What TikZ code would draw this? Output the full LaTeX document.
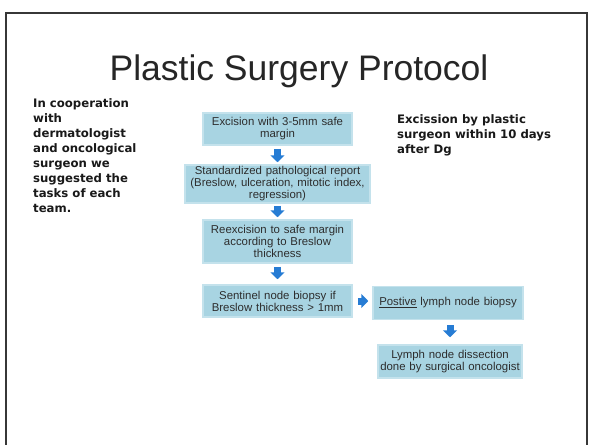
\documentclass[tikz,border=0pt]{standalone}
\usepackage{fontspec}
\setmainfont{Liberation Sans}
\newfontfamily\notefont{DejaVu Sans}
\usetikzlibrary{arrows.meta}
\definecolor{boxfill}{RGB}{168,212,226}
\definecolor{boxedge}{RGB}{196,226,236}
\definecolor{arrowblue}{RGB}{38,124,212}
\definecolor{frameclr}{RGB}{55,55,55}
\definecolor{boxtext}{RGB}{45,45,45}
\tikzset{
  stepbox/.style={fill=boxfill, draw=boxedge, line width=1.5pt, inner sep=0pt,
    align=center, text=boxtext, font=\fontsize{11.4}{12}\selectfont},
  blockarrow/.style={draw=arrowblue, line width=7pt,
    -{Triangle[width=14pt,length=7pt]}},
  notetext/.style={inner sep=0pt, align=left, anchor=north west, text=black!90,
    font=\notefont\bfseries\fontsize{11.7}{15}\selectfont},
  frameline/.style={draw=frameclr, line width=2pt}
}
\begin{document}
\begin{tikzpicture}[x=1pt,y=-1pt]
\clip (0,0) rectangle (591,444);
\fill[white] (0,0) rectangle (591,444);
\draw[frameline] (6,460) -- (6,13) -- (587,13) -- (587,460);

\node[inner sep=0pt, anchor=base, font=\fontsize{35.5}{40}\selectfont, text=black!85] (title) at (299,81) {Plastic Surgery Protocol};

\node[notetext] (left) at (33,98) {In cooperation\\with\\dermatologist\\and oncological\\surgeon we\\suggested the\\tasks of each\\team.};
\node[notetext] (right) at (397,114) {Excission by plastic\\surgeon within 10 days\\after Dg};

\node[stepbox, minimum width=149pt, minimum height=32pt, text width=145pt] (b1) at (277.5,129) {Excision with 3-5mm safe\\margin};
\node[stepbox, minimum width=185pt, minimum height=38pt, text width=181pt] (b2) at (277.5,184) {Standardized pathological report\\(Breslow, ulceration, mitotic index,\\regression)};
\node[stepbox, minimum width=149pt, minimum height=43pt, text width=145pt] (b3) at (277.5,241.5) {Reexcision to safe margin\\according to Breslow\\thickness};
\node[stepbox, minimum width=149pt, minimum height=32pt, text width=145pt] (b4) at (277.5,301) {Sentinel node biopsy if\\Breslow thickness {>} 1mm};
\node[stepbox, minimum width=150pt, minimum height=33pt, text width=146pt] (b5) at (448,303) {\underline{Postive} lymph node biopsy};
\node[stepbox, minimum width=144pt, minimum height=33pt, text width=140pt] (b6) at (450,361.5) {Lymph node dissection\\done by surgical oncologist};

\draw[blockarrow, shorten <=3pt, shorten >=2pt] (b1) -- (b2);
\draw[blockarrow, shorten <=2pt, shorten >=2pt] (b2) -- (b3);
\draw[blockarrow, shorten <=3pt, shorten >=5pt] (b3) -- (b4);
\draw[blockarrow, shorten <=5pt, shorten >=4pt] (b4.east) -- (b4.east -| b5.west);
\draw[blockarrow, shorten <=5pt, shorten >=7pt] (b5.south -| b6) -- (b6.north);
\end{tikzpicture}
\end{document}
